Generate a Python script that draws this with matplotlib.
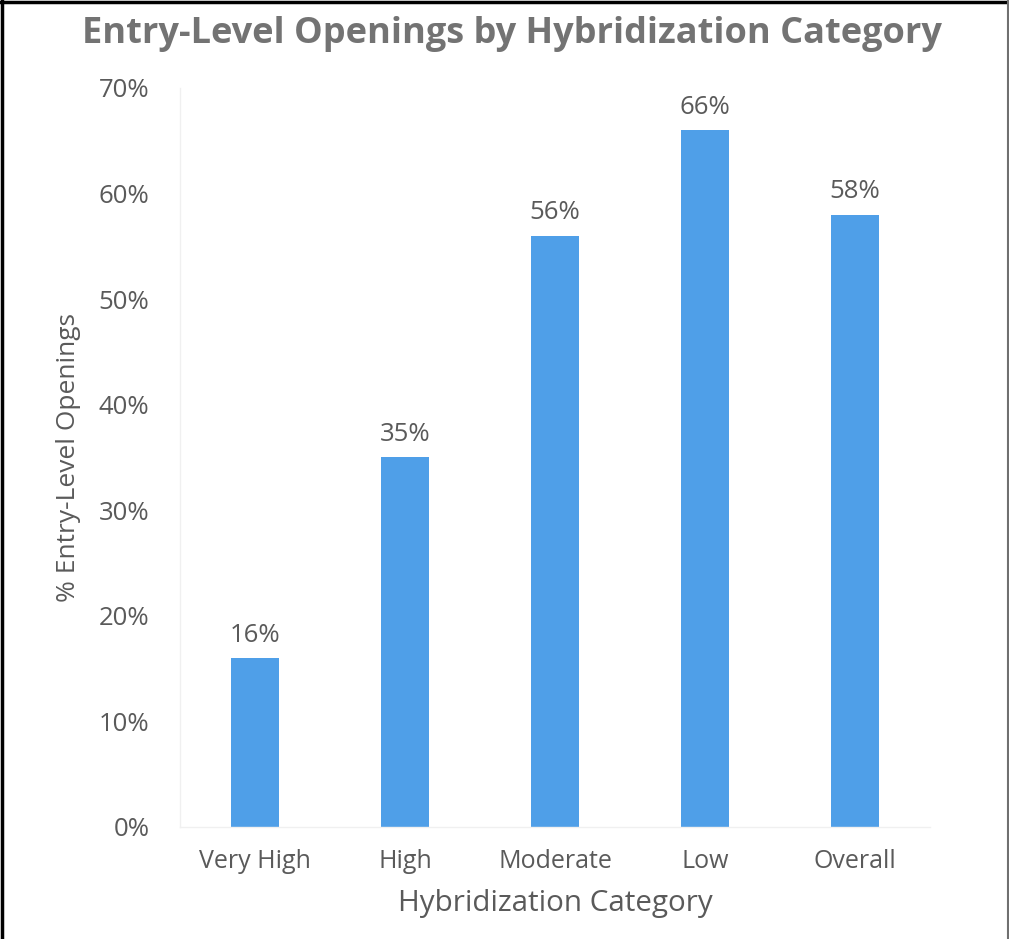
import matplotlib.pyplot as plt

categories = ["Very High", "High", "Moderate", "Low", "Overall"]
shares = [16, 35, 56, 66, 58]
yticks = [0, 10, 20, 30, 40, 50, 60, 70]

text_color = "#5a5a5a"
bar_color = "#4f9fe8"

plt.rcParams["font.family"] = ["Open Sans", "DejaVu Sans"]

fig = plt.figure(figsize=(10.09, 9.39), dpi=100)
ax = fig.add_axes([180 / 1009, 112 / 939, 750 / 1009, 739 / 939])

x = range(len(categories))
bars = ax.bar(x, shares, width=0.32, color=bar_color, zorder=2)
for b, v in zip(bars, shares):
    ax.text(b.get_x() + b.get_width() / 2, v + 1.0, f"{v}%",
            ha="center", va="bottom", fontsize=18.5, color=text_color)

ax.set_xlim(-0.5, len(categories) - 0.5)
ax.set_ylim(0, 70)
ax.set_xticks(list(x))
ax.set_xticklabels(categories)
ax.set_yticks(yticks)
ax.set_yticklabels([f"{t}%" for t in yticks])
ax.tick_params(axis="y", length=0, labelsize=18.5, colors=text_color, pad=22)
ax.tick_params(axis="x", length=0, labelsize=18, colors=text_color, pad=16)

for side in ["top", "right"]:
    ax.spines[side].set_visible(False)
for side in ["left", "bottom"]:
    ax.spines[side].set_color("#f0f0f0")
    ax.spines[side].set_linewidth(1)

ax.set_xlabel("Hybridization Category", fontsize=21.3, color=text_color, labelpad=11)
ax.set_ylabel("% Entry-Level Openings", fontsize=19, color=text_color, labelpad=13)

fig.text(512 / 1009, 1 - 34 / 939, "Entry-Level Openings by Hybridization Category",
         ha="center", va="center", fontsize=26, fontweight="bold", color="#737373")

# frame around the whole image
fig.add_artist(plt.Line2D([1.5 / 1009, 1.5 / 1009], [0, 1], transform=fig.transFigure,
                          color="black", linewidth=2.5))
fig.add_artist(plt.Line2D([0, 1], [1 - 1.5 / 939, 1 - 1.5 / 939], transform=fig.transFigure,
                          color="black", linewidth=2.5))
fig.add_artist(plt.Line2D([1007.5 / 1009, 1007.5 / 1009], [0, 1], transform=fig.transFigure,
                          color="#707070", linewidth=1.5))

fig.savefig("out.png", dpi=100)
